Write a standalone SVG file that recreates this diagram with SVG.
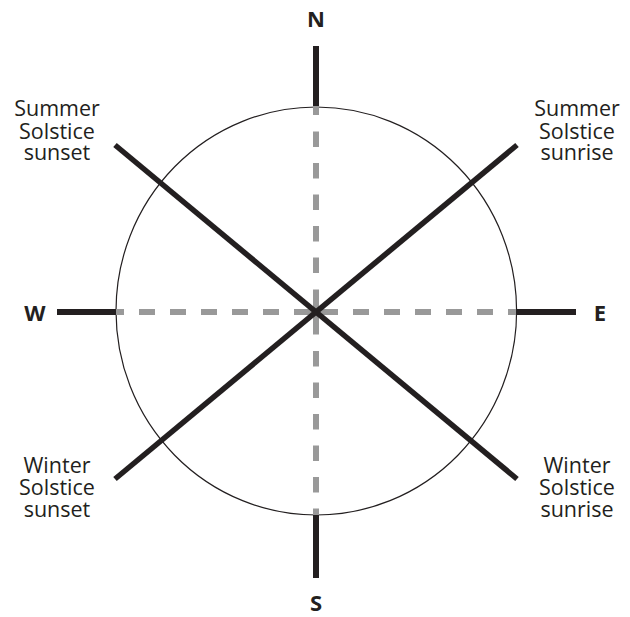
<svg xmlns="http://www.w3.org/2000/svg" width="630" height="617" viewBox="0 0 630 617">
<style>
.bg{fill:#fff}
.lbl{font-family:"Open Sans","Noto Sans","Liberation Sans",sans-serif;font-size:21.5px;fill:#231f20;text-anchor:middle}
.dir{font-family:"Open Sans","Noto Sans","Liberation Sans",sans-serif;font-size:22px;font-weight:bold;fill:#231f20;text-anchor:middle}
.ring{fill:none;stroke:#231f20;stroke-width:1.2}
.axis{stroke:#231f20;stroke-width:6;fill:none}
.dash{stroke:#999;stroke-width:6;fill:none}
.sol{stroke:#231f20;stroke-width:5.5;fill:none}
</style>
<rect class="bg" width="630" height="617"/>
<g id="circle"><ellipse class="ring" cx="316.3" cy="311" rx="200.3" ry="204"/></g>
<g id="connectors">
<line class="dash" x1="116" y1="312" x2="516" y2="312" stroke-dasharray="8 15 16 15 16 15 16 15 16 15 16 15 44 15 16 15 16 15 16 15 16 15 16 15 8"/>
<line class="dash" x1="316" y1="105" x2="316" y2="517" stroke-dasharray="10 16.5 15.5 16 15.5 16 15.5 16 15.5 16 15.5 16.5 45 16.5 15.5 16 15.5 16 15.5 16 15.5 16 15.5 16 8"/>
<line class="axis" x1="316" y1="46" x2="316" y2="106"/>
<line class="axis" x1="316" y1="515" x2="316" y2="578"/>
<line class="axis" x1="57" y1="312" x2="116" y2="312"/>
<line class="axis" x1="517" y1="312" x2="576" y2="312"/>
<line class="sol" x1="115" y1="145" x2="517" y2="479"/>
<line class="sol" x1="517" y1="145" x2="115" y2="479"/>
</g>
<g id="north"><text class="dir" x="316" y="27">N</text></g>
<g id="south"><text class="dir" x="316" y="611">S</text></g>
<g id="west"><text class="dir" x="35" y="321">W</text></g>
<g id="east"><text class="dir" x="600" y="321">E</text></g>
<g id="summer-sunset"><text class="lbl"><tspan x="57" y="116">Summer</tspan><tspan x="57" y="138.5">Solstice</tspan><tspan x="57" y="160">sunset</tspan></text></g>
<g id="summer-sunrise"><text class="lbl"><tspan x="577" y="116">Summer</tspan><tspan x="577" y="138.5">Solstice</tspan><tspan x="577" y="160">sunrise</tspan></text></g>
<g id="winter-sunset"><text class="lbl"><tspan x="57" y="473">Winter</tspan><tspan x="57" y="495">Solstice</tspan><tspan x="57" y="516.5">sunset</tspan></text></g>
<g id="winter-sunrise"><text class="lbl"><tspan x="577" y="473">Winter</tspan><tspan x="577" y="495">Solstice</tspan><tspan x="577" y="516.5">sunrise</tspan></text></g>
</svg>
